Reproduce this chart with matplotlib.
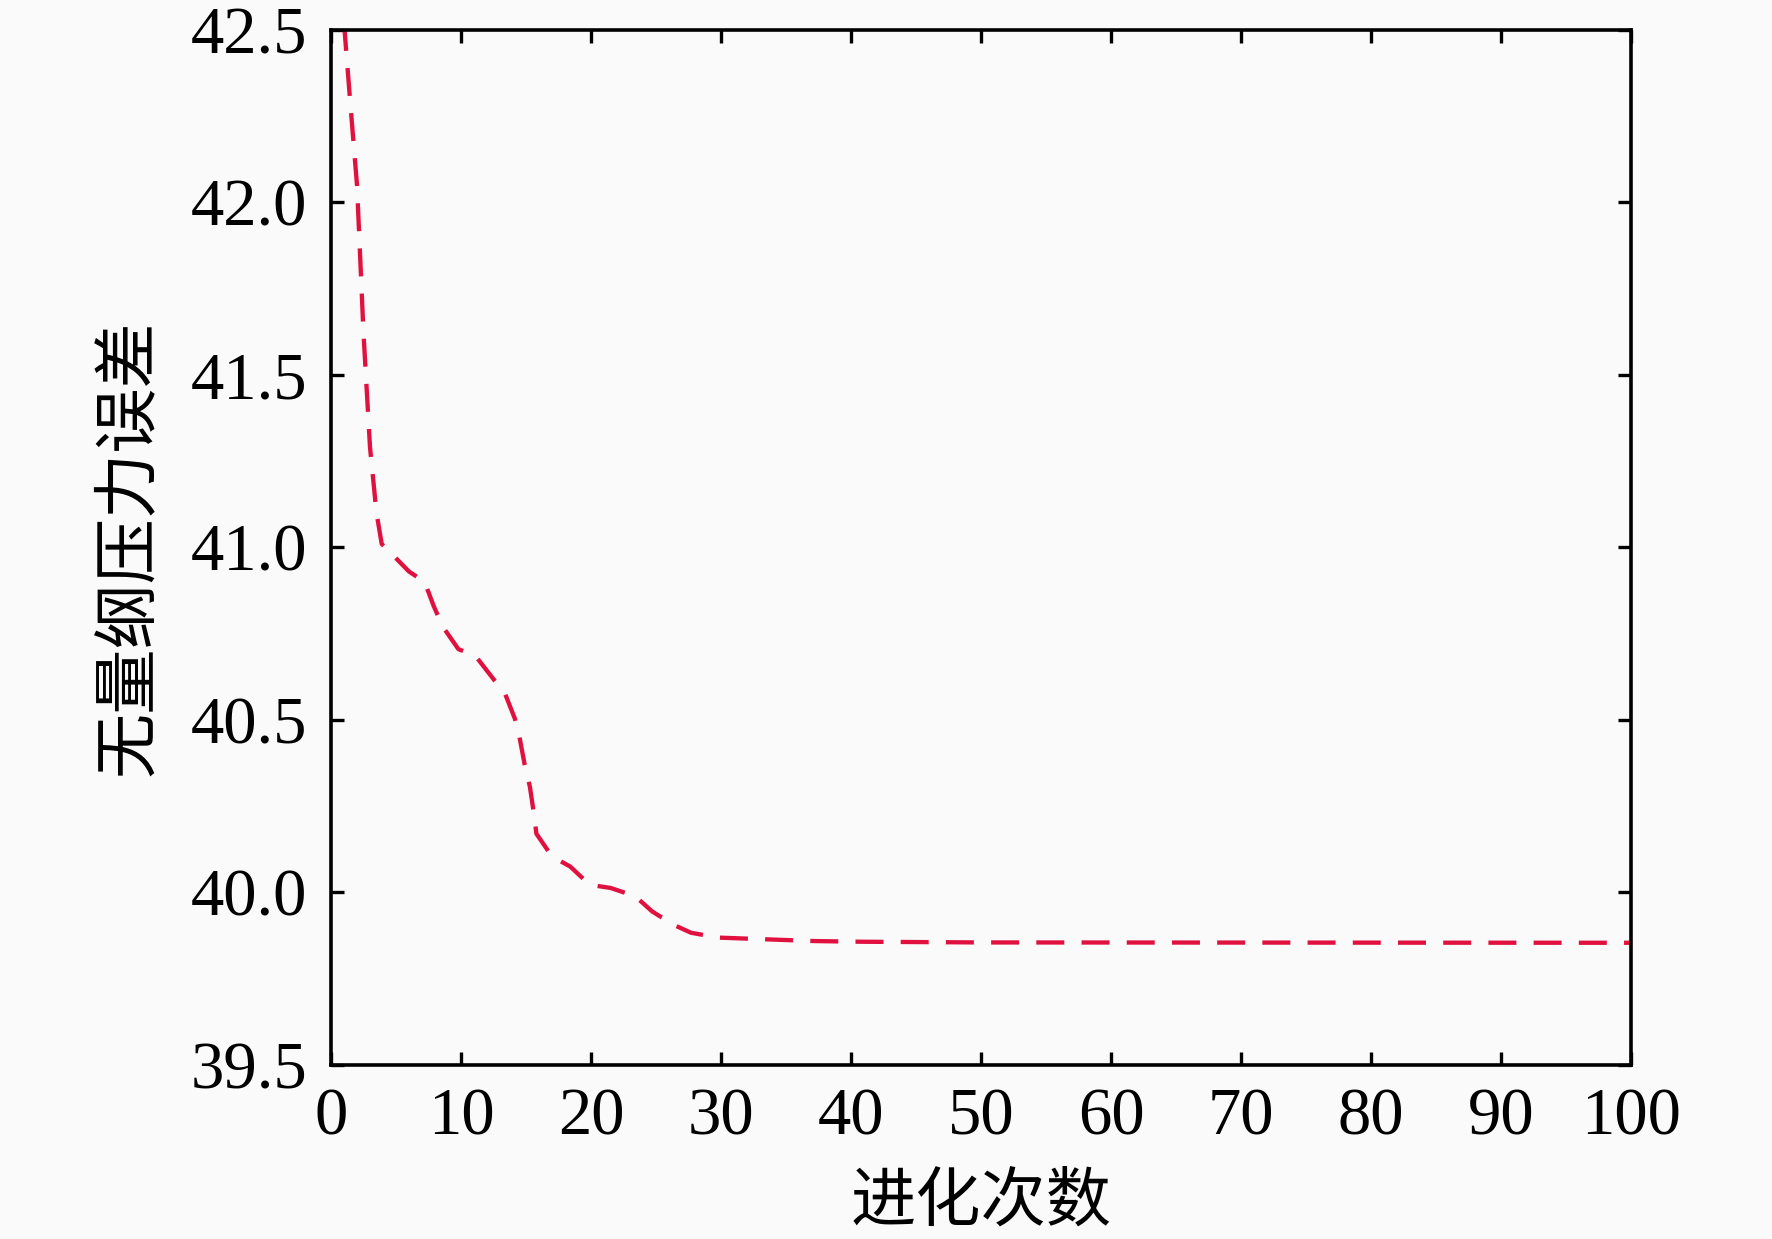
import matplotlib
matplotlib.use('Agg')
import matplotlib.pyplot as plt

# values
generation = [1, 1.5, 2, 2.5, 3, 3.5, 3.9, 4.7, 6, 7.2, 7.9, 8.6, 9.8, 11.1, 12.4,
              13.4, 14.15, 14.5, 14.9, 15.3, 15.6, 15.8, 17, 18.4, 19.9, 21.5,
              23.4, 24.7, 26.3, 27.7, 29.8, 33.5, 37.2, 40.9, 50, 100]
pressure_error = [42.52, 42.28, 42.05, 41.62, 41.29, 41.10, 41.01, 40.98, 40.93,
                  40.90, 40.83, 40.77, 40.705, 40.686, 40.623, 40.575, 40.503,
                  40.45, 40.37, 40.306, 40.23, 40.17, 40.104, 40.075, 40.022,
                  40.013, 39.989, 39.945, 39.907, 39.883, 39.869, 39.864, 39.859,
                  39.857, 39.855, 39.854]

x_ticks = [0, 10, 20, 30, 40, 50, 60, 70, 80, 90, 100]
y_ticks = [39.5, 40.0, 40.5, 41.0, 41.5, 42.0, 42.5]

bg = '#fafafa'
fig = plt.figure(figsize=(17.72, 12.39), dpi=100, facecolor=bg)
ax = fig.add_axes([0.1868, 0.1405, 0.7336, 0.8354], facecolor=bg)

ax.plot(generation, pressure_error, color='#e0103f', linewidth=3.1,
        linestyle=(0, (6.5, 4)))

ax.set_xlim(0, 100)
ax.set_ylim(39.5, 42.5)
ax.set_xticks(x_ticks)
ax.set_yticks(y_ticks)
ax.set_yticklabels([f'{v:.1f}' for v in y_ticks])

for s in ax.spines.values():
    s.set_linewidth(2.6)

ax.tick_params(direction='in', length=9.5, width=2.4, top=True, right=True,
               labelsize=48)
ax.tick_params(axis='y', pad=17)
ax.tick_params(axis='x', pad=16)
for lab in ax.get_xticklabels() + ax.get_yticklabels():
    lab.set_fontfamily('Liberation Serif')

ax.set_xlabel('进化次数', fontsize=47, family=['Noto Sans CJK SC', 'DejaVu Sans'])
ax.set_ylabel('无量纲压力误差', fontsize=47, family=['Noto Sans CJK SC', 'DejaVu Sans'])
ax.xaxis.set_label_coords(0.5, -0.101)
ax.yaxis.set_label_coords(-0.13, 0.5)

fig.savefig('out.png', dpi=100, facecolor=bg)
